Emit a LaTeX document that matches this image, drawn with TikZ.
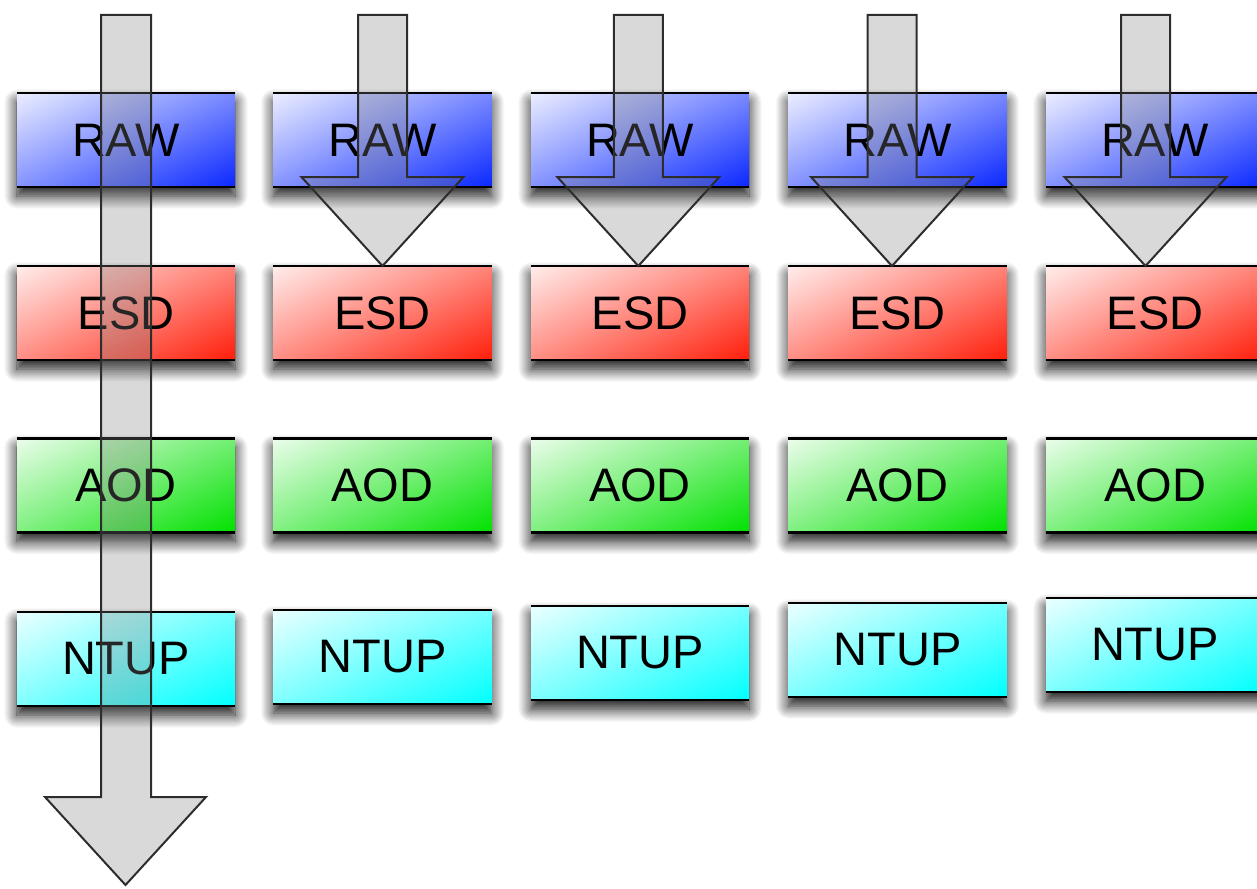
\documentclass[tikz,border=0pt]{standalone}
\usepackage{fontspec}
\setmainfont{Liberation Sans}
\usetikzlibrary{shadows.blur,shadings}

\definecolor{rawc}{RGB}{10,40,255}
\definecolor{esdc}{RGB}{255,30,10}
\definecolor{aodc}{RGB}{0,225,0}
\definecolor{ntupc}{RGB}{0,255,255}
\definecolor{arrowline}{RGB}{45,45,45}

\tikzset{
  stage/.style={rectangle, inner sep=0pt, minimum width=218pt, minimum height=94pt,
    font=\fontsize{47}{47}\selectfont, text=black, shade,
    upper left=white!92!#1, upper right=white!45!#1,
    lower left=white!50!#1, lower right=#1,
    blur shadow={shadow xshift=0pt, shadow yshift=-9pt, shadow blur radius=13pt,
      shadow blur steps=12, shadow opacity=95}},
  edge line/.style={line width=2.5pt, black},
  flow arrow/.style={fill=gray, fill opacity=0.3, draw=arrowline, draw opacity=1,
    line width=2pt, line join=miter},
}

\begin{document}
\begin{tikzpicture}[x=1pt, y=-1pt]
  \useasboundingbox (0,0) rectangle (1257,888);
  \clip (0,0) rectangle (1257,888);

  % data format boxes, one column per processing chain
  \foreach \i/\cx/\ny in {1/126/659, 2/382.5/657, 3/640/653, 4/897.5/650, 5/1155/645} {
    \node[stage=rawc]  (raw\i)  at (\cx,140)   {RAW};
    \node[stage=esdc]  (esd\i)  at (\cx,313)   {ESD};
    \node[stage=aodc]  (aod\i)  at (\cx,485.5) {AOD};
    \node[stage=ntupc] (ntup\i) at (\cx,\ny)   {NTUP};
    \foreach \b in {raw,esd,aod,ntup} {
      \draw[edge line] (\b\i.north west) -- (\b\i.north east);
      \draw[edge line] (\b\i.south west) -- (\b\i.south east);
    }
  }

  % long arrow through the whole first chain
  \coordinate (sink) at (125.5,885);
  \draw[flow arrow] (101,15) -- (151,15) -- (151,797) -- (206,797) -- (sink)
    -- (45,797) -- (101,797) -- cycle;

  % short arrows from RAW into ESD
  \foreach \i/\ax in {2/382.5, 3/638.3, 4/892, 5/1145.5} {
    \coordinate (tip\i) at (\ax,266);
    \draw[flow arrow] (\ax-24.5,15) -- (\ax+24.5,15) -- (\ax+24.5,177)
      -- (\ax+81,177) -- (tip\i) -- (\ax-81,177) -- (\ax-24.5,177) -- cycle;
  }
\end{tikzpicture}
\end{document}
